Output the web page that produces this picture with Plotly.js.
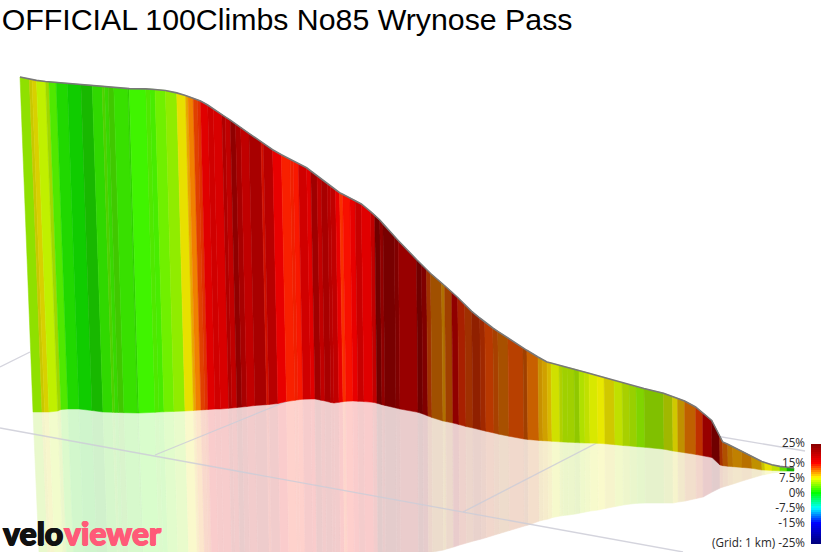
<!DOCTYPE html>
<html><head><meta charset="utf-8">
<script src="https://cdn.plot.ly/plotly-3.0.1.min.js"></script>
<style>html,body{margin:0;padding:0;background:#fff;overflow:hidden}#c{width:823px;height:552px}</style>
</head><body><div id="c"></div>
<script>
const chartTitle = "OFFICIAL 100Climbs No85 Wrynose Pass";

// Band edges of the gradient wall
const edgeBaseX = [33,42,44.6,49,57.7,61,68,79,92,103,
112.5,115,118.4,124,137.5,139,155,159,164,174,
185,193.5,196,201,205,208,215,220.5,228.7,232,
237,242,247,255,266.7,269,278,286.5,295,298,
303,311,315,321,325,331,334,339,343,346,
353,358,364,373,377,382,385,396,400,418,
423,428,432,443,446,453,459,466,473,481,
486,494,499,509,524,528,539,543,548,552,
560,563,568,575,580,585,590,598,605,615,
623,630,637,645,664,673,678,685,696,703,
712,720,723,728,733,742,752,762,765,772,
780,787,794];
const edgeTopX = [20,29.3,32,36.5,45.5,48.9,56.1,67.4,80.9,92.2,
102,104.6,108.1,113.8,127.8,129.3,145.8,149.9,155,165.4,
176.7,185.5,188,193.2,197.4,200.5,207.7,213.3,221.8,225.2,
230.3,235.5,240.7,248.9,261,263.3,272.6,281.4,290.1,293.2,
298.4,306.6,310.8,317,321.1,327.3,330.4,335.5,339.6,342.7,
349.9,355.1,361.3,370.6,374.7,379.8,382.9,394.3,398.4,416.5,
421.5,426.5,430.6,441.6,444.6,451.7,457.7,464.7,471.7,479.8,
484.8,492.8,497.8,507.9,522.9,526.9,538,542,547,551,
559,562,567,574,579,584,589,597,604,614,
622,629,636,644,663.5,672.5,677.5,684.6,695.6,702.7,
711.7,719.7,722.7,727.8,732.8,741.8,751.8,761.8,764.8,771.8,
779.8,786.8,794];
const edgeTopY = [77,79.1,79.8,80.4,81.5,81.8,82.3,83.4,84.6,85.4,
86.2,86.5,86.8,87.4,88.5,88.6,88.9,89,89.5,90.5,
92.9,95.6,96.4,98.2,99.8,101,105,109,114.5,116.8,
120.2,124,127.6,133.3,141.7,143.3,149.7,154.8,159.5,161,
163.7,167.8,171,175.7,178.8,183.6,186,189.8,192.7,194.3,
198,200.5,204,211.7,215,220,223.6,236.3,240.7,259.5,
264.5,269.5,273.5,283,285.5,292,297.5,304.7,311.3,318,
322,328,331.3,338,348,350.3,357,359.3,362,363,
365.3,366,367.3,369,370.5,371.8,373.2,375.4,377.3,380.5,
382.6,384.6,386.7,388.6,393.2,396.5,398.3,401,407,412.8,
420.5,436,442,444.3,446.9,451,456.3,461.5,462.5,464.8,
466.4,467.4,468];
const edgeBaseY = [412,412,412,412,411,409.5,409,409,410.5,412,
412.3,412.4,412.5,412.7,413,413,412.3,412,411.8,411.4,
411,410.5,410.2,410,409.7,409.5,409,409,408.3,408,
407.5,407,406.5,405.5,404.7,404.5,403.5,401.5,400.3,399.8,
399.2,399,399,400.2,401,402.5,403,402.3,401.7,401.3,
401,401.3,401.6,402.3,403.2,404.7,405.4,408,409,412.3,
414,416,417.5,421,421.5,423,424.6,426.5,428,430,
431.2,433,434.2,436.2,439,439.5,440.4,440.7,441,441.3,
441.8,442,442.2,442.5,442.8,443,443.1,443.3,443.8,444.7,
445.5,446,446.7,447.3,449.2,451,451.7,452.8,454.5,455.8,
457.5,465,465.7,466.3,466.7,467.4,468.3,470,470.1,470.4,
470.7,470.9,471];
const edgeReflectX = [39,47.7,50.3,54.7,63.2,66.4,73.4,84.2,97,107.9,
117.2,119.7,123,128.6,141.9,143.4,159.1,163.1,168,177.9,
188.7,197.1,199.6,204.5,208.4,211.4,218.3,223.7,231.8,235.1,
240,244.9,249.8,257.7,269.2,271.5,280.4,288.8,297.2,300.2,
305.1,313,316.9,322.8,326.8,332.7,335.6,340.6,344.5,347.5,
354.4,359.3,365.2,374.1,378,382.9,385.9,396.8,400.7,418.7,
423.7,428.7,432.6,443.6,446.6,453.6,459.6,466.6,473.6,481.5,
486.5,494.5,499.5,509.5,524.5,528.5,539.4,543.4,548.4,552.4,
560.4,563.4,568.4,575.4,580.4,585.4,590.4,598.4,605.3,615.3,
623.3,630.3,637.3,645.3,664.2,673.2,678.2,685.2,696.2,703.1,
712.1,720.1,723.1,728.1,733.1,742.1,752.1,762.1,765.1,772.1,
780,787,794];
const edgeReflectY = [552,552,552,552,552,552,552,552,552,552,
552,552,552,552,552,552,552,552,552,552,
552,552,552,552,552,552,552,552,552,552,
552,552,552,552,552,552,552,552,552,552,
552,552,552,552,552,552,552,552,552,552,
552,552,552,552,552,552,552,552,552,552,
552,552,552,550,549,547,545,543,541,539,
537.5,535,533.5,530.5,526,525,521,520,519,517.5,
516,515.5,515,514,513,512,511,510,508.5,506.5,
505,504,503.3,503,503,503,502,501,498.5,497,
492,488,487,485.5,484,481,478,475,474.5,473,
472,471.5,471];
const bandColors = ["#8fe000","#c8c800","#d8d000","#c0f000","#a0d800","#50e800","#20d800","#10cc00","#18b800","#30d800",
"#50d000","#38d800","#40c800","#38e000","#30d000","#40f400","#50e800","#48ec00","#70f000","#90ec00",
"#e8e000","#e8a800","#f08000","#e04000","#e03000","#e00000","#d00000","#d80000","#b00000","#c00000",
"#900000","#a80000","#c00000","#a80000","#d01000","#b80000","#e80000","#f82000","#f02000","#f81800",
"#d00000","#e00000","#a00000","#c00000","#a80000","#b80000","#c00000","#e80000","#f83000","#f81000",
"#e80000","#c80000","#e00000","#c00000","#700000","#900000","#780000","#800000","#980000","#700000",
"#800000","#a03000","#a05000","#b07000","#a04000","#900000","#a82000","#a03000","#902000","#a02800",
"#b83800","#a84000","#a85000","#b84000","#a04000","#c86000","#c89000","#d0a000","#d8b800","#d0e000",
"#b0d000","#a0d000","#a0d000","#90c800","#b0e000","#c0e000","#d8e800","#e8e800","#d0c800","#c0e000",
"#a8d000","#98d000","#80d400","#80c000","#a0b800","#d0c800","#c09000","#c06000","#c03000","#980000",
"#700000","#a83000","#b05000","#b87000","#c08000","#b87000","#c09000","#c8c000","#e8e000","#c0e000",
"#60e000","#10b000"];

// Floor grid lines, seen through the reflection
const gridX = [0,683,null,155,290,null,463,620,null,710,805,null,0,30];
const gridY = [428,552,null,455,400,null,512,431,null,435,451,null,367,352];

// Gradient legend
const legendGrades = [-25,-24,-23,-22,-21,-20,-19,-18,-17,-16,-15,-14,-13,-12,-11,-10,-9,-8,-7,-6,-5,-4,-3,-2,-1,0,1,2,3,4,5,6,7,8,9,10,11,12,13,14,15,16,17,18,19,20,21,22,23,24];
const legendTickVals = [25,15,7.5,0,-7.5,-15,-25];
const legendTickText = ["25%","15%","7.5%","0%","-7.5%","-15%","(Grid: 1 km) -25%"];
const gradeScale = [[0,"#000080"],[0.2,"#0000ff"],[0.35,"#00ffff"],[0.5,"#00ff00"],[0.65,"#ffff00"],[0.8,"#ff0000"],[1,"#800000"]];

function pale(hex,a){
  const n=parseInt(hex.slice(1),16),m=c=>Math.round(255+(c-255)*a);
  return `rgb(${m(n>>16&255)},${m(n>>8&255)},${m(n&255)})`;
}
const traces=[];
for(let i=0;i<bandColors.length;i++){
  const c=pale(bandColors[i],0.2);
  traces.push({type:"scatter",mode:"lines",hoverinfo:"skip",showlegend:false,fill:"toself",fillcolor:c,line:{color:c,width:0.6},
    x:[edgeBaseX[i],edgeBaseX[i+1],edgeReflectX[i+1],edgeReflectX[i],edgeBaseX[i]],
    y:[edgeBaseY[i],edgeBaseY[i+1],edgeReflectY[i+1],edgeReflectY[i],edgeBaseY[i]]});
}
traces.push({type:"scatter",mode:"lines",hoverinfo:"skip",showlegend:false,x:gridX,y:gridY,line:{color:"rgba(205,205,215,0.85)",width:1.3}});
for(let i=0;i<bandColors.length;i++){
  traces.push({type:"scatter",mode:"lines",hoverinfo:"skip",showlegend:false,fill:"toself",fillcolor:bandColors[i],line:{color:bandColors[i],width:0.5},
    x:[edgeTopX[i],edgeTopX[i+1],edgeBaseX[i+1],edgeBaseX[i],edgeTopX[i]],
    y:[edgeTopY[i],edgeTopY[i+1],edgeBaseY[i+1],edgeBaseY[i],edgeTopY[i]]});
}
traces.push({type:"scatter",mode:"lines",hoverinfo:"skip",showlegend:false,x:edgeTopX,y:edgeTopY,line:{color:"#787878",width:1.6}});
traces.push({type:"heatmap",xaxis:"x2",yaxis:"y2",hoverinfo:"skip",showscale:false,x:[0],y:legendGrades,z:legendGrades.map(g=>[g]),zmin:-25,zmax:25,colorscale:gradeScale});

const layout={width:823,height:552,margin:{l:0,r:0,t:0,b:0},paper_bgcolor:"#fff",plot_bgcolor:"rgba(0,0,0,0)",showlegend:false,
  title:{text:chartTitle,x:0.002,xanchor:"left",xref:"paper",y:1-19/552,yanchor:"middle",yref:"paper",font:{family:"Liberation Sans",size:30.3,color:"#000"}},
  xaxis:{range:[0,823],domain:[0,1],visible:false,fixedrange:true},
  yaxis:{range:[552,0],domain:[0,1],visible:false,fixedrange:true},
  xaxis2:{domain:[811/823,821/823],anchor:"y2",range:[-0.5,0.5],visible:false,fixedrange:true},
  yaxis2:{domain:[1-545/552,1-441/552],anchor:"x2",range:[-26,26],side:"left",showgrid:false,zeroline:false,showline:false,ticks:"",tickmode:"array",tickvals:legendTickVals,ticktext:legendTickText,tickfont:{family:"Open Sans",size:11.7,color:"#2a2a2a"},ticklabelstandoff:5,fixedrange:true},
  annotations:[
    {xref:"x",yref:"y",x:2,y:552,yshift:-1,xanchor:"left",yanchor:"bottom",showarrow:false,text:"velo",font:{family:"Lato",size:32,weight:900,color:"#111",shadow:"0.7px 0 0 #111, -0.7px 0 0 #111, 0 0.7px 0 #111"},borderpad:0},
    {xref:"x",yref:"y",x:63,y:552,yshift:-1,xanchor:"left",yanchor:"bottom",showarrow:false,text:"viewer",font:{family:"Lato",size:32,weight:900,color:"#ff5a78",shadow:"0.7px 0 0 #ff5a78, -0.7px 0 0 #ff5a78, 0 0.7px 0 #ff5a78"},borderpad:0}
  ]};
Plotly.newPlot("c",traces,layout,{displayModeBar:false,staticPlot:true});
</script></body></html>
